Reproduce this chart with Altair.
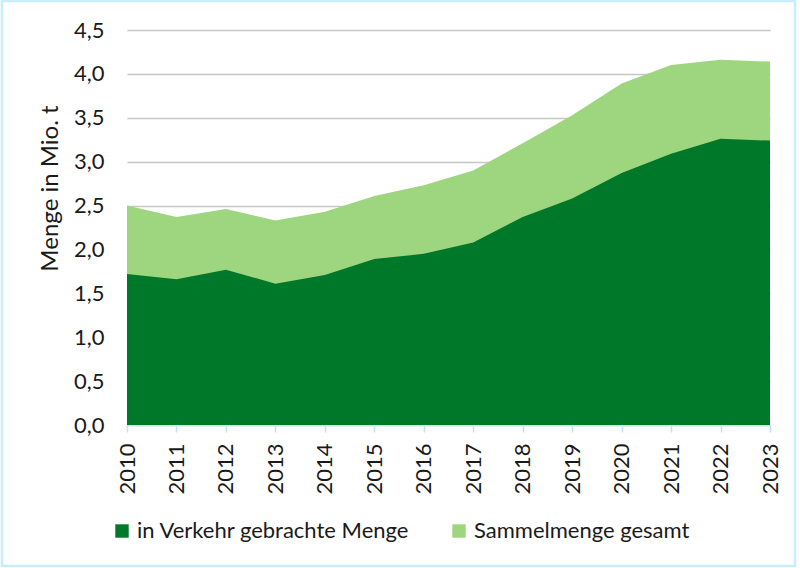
import altair as alt
import pandas as pd

years = [str(y) for y in range(2010, 2024)]
in_verkehr = [1.72, 1.66, 1.77, 1.61, 1.71, 1.89, 1.95, 2.08, 2.37, 2.58, 2.87, 3.09, 3.26, 3.24]
sammel = [2.50, 2.37, 2.46, 2.33, 2.43, 2.61, 2.73, 2.90, 3.21, 3.53, 3.89, 4.10, 4.16, 4.14]
y_ticks = [0, 0.5, 1.0, 1.5, 2.0, 2.5, 3.0, 3.5, 4.0, 4.5]

S_DARK = "in Verkehr gebrachte Menge"
S_LIGHT = "Sammelmenge gesamt"

df = pd.DataFrame({
    "Jahr": years * 2,
    "Wert": in_verkehr + sammel,
    "Reihe": [S_DARK] * len(years) + [S_LIGHT] * len(years),
})

FONT = "Lato"
color_scale = alt.Scale(domain=[S_DARK, S_LIGHT], range=["#00782A", "#9DD67E"])

x_enc = alt.X(
    "Jahr:O",
    scale=alt.Scale(padding=0),
    axis=alt.Axis(
        title=None, labelAngle=270, labelAlign="right", labelBaseline="middle",
        labelFontSize=22, labelFont=FONT, labelColor="#1a1a1a", labelPadding=11,
        tickColor="#B9E6F6", tickSize=7, tickWidth=1.5,
        domainColor="#B9E6F6", domainWidth=1.5, grid=False,
    ),
)
y_enc = alt.Y(
    "Wert:Q",
    scale=alt.Scale(domain=[0, 4.5], nice=False),
    axis=alt.Axis(
        title="Menge in Mio. t", titleFont=FONT, titleFontSize=24, titleFontWeight="normal",
        titleColor="#1a1a1a", titleAngle=270, titleX=-77, titleY=158,
        titleAlign="center", titleBaseline="middle",
        values=y_ticks, labelExpr="replace(format(datum.value, '.1f'), '.', ',')",
        labelFontSize=22, labelFont=FONT, labelColor="#1a1a1a", labelPadding=23,
        ticks=False, domain=False, gridColor="#C6C6C6", gridWidth=1.5,
    ),
)
color_enc = alt.Color(
    "Reihe:N", scale=color_scale, sort=[S_DARK, S_LIGHT],
    legend=alt.Legend(
        title=None, orient="none", direction="horizontal", legendX=-16, legendY=490,
        symbolType="square", symbolSize=180, symbolStrokeWidth=0,
        labelFont=FONT, labelFontSize=22, labelColor="#1a1a1a", labelLimit=0,
        columnPadding=38, labelOffset=4,
    ),
)

base = alt.Chart(df)
light = base.transform_filter(alt.datum.Reihe == S_LIGHT).mark_area(opacity=1).encode(
    x=x_enc, y=y_enc, color=color_enc)
dark = base.transform_filter(alt.datum.Reihe == S_DARK).mark_area(opacity=1).encode(
    x=x_enc, y=y_enc, color=color_enc)

border = alt.Chart(pd.DataFrame({"a": [0]})).mark_rect(
    filled=False, stroke="#C6EEFB", strokeWidth=2.5
).encode(
    x=alt.value(-125), x2=alt.value(668), y=alt.value(-29), y2=alt.value(536)
)

chart = alt.layer(light, dark, border).properties(
    width=643, height=395,
    padding={"left": 127, "top": 30, "right": 30, "bottom": 143},
    autosize=alt.AutoSizeParams(type="none"),
    background="white",
).configure_view(stroke=None)

chart.save("out.html", embed_options={"renderer": "svg", "actions": False})
